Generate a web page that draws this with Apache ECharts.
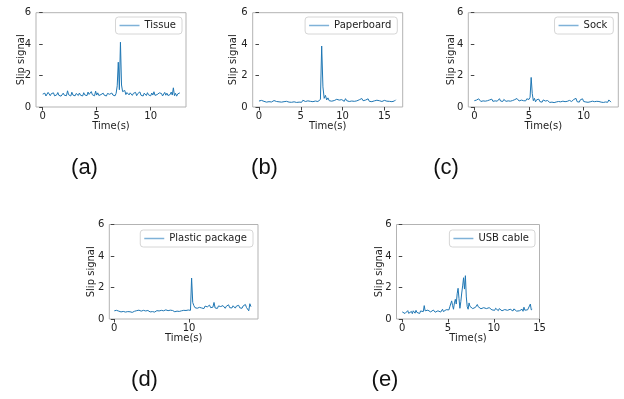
<!DOCTYPE html>
<html>
<head>
<meta charset="utf-8">
<script src="https://cdn.jsdelivr.net/npm/echarts@6/dist/echarts.min.js"></script>
<style>
  html, body { margin: 0; padding: 0; background: #fff; }
  #chart { width: 624px; height: 399px; }
</style>
</head>
<body>
<div id="chart"></div>
<script>
// sample spacing (s) for each recording
const dtTissue = 0.1;
const dtPaper = 0.15;
const dtSock = 0.1;
const dtPlastic = 0.15;
const dtUsb = 0.1;

// slip signal values
const tissue = [
  0.82,0.74,0.88,0.70,0.79,0.93,1.00,0.72,0.85,0.76,
  0.90,0.71,0.83,0.77,0.92,0.74,0.86,0.69,0.81,0.88,
  0.75,0.84,0.72,1.03,0.78,0.87,0.70,0.94,0.76,0.83,
  0.71,0.86,0.79,0.73,0.89,0.75,0.82,0.70,0.91,0.77,
  0.84,0.72,0.95,0.80,0.74,0.98,0.78,0.87,0.71,1.01,
  0.76,0.90,0.73,0.85,0.79,0.72,0.88,0.75,0.83,0.70,
  0.86,0.77,0.81,0.73,0.89,0.76,0.84,0.71,0.87,1.35,
  2.85,1.10,4.12,1.40,0.98,0.86,1.05,0.79,0.92,0.84,
  0.77,0.90,0.81,0.74,0.87,0.79,0.93,0.72,0.85,0.78,
  0.96,0.75,0.83,0.70,0.88,0.80,0.73,0.91,0.77,0.85,
  0.71,0.89,0.76,0.97,0.74,0.84,0.79,0.72,0.90,0.78,
  0.86,0.70,0.82,0.93,0.75,0.88,0.73,0.84,0.79,0.95,
  0.76,1.22,0.72,0.87,0.69,0.83,0.78,0.90
];
const paperboard = [
  0.38,0.30,0.42,0.33,0.36,0.45,0.31,0.39,0.34,0.44,
  0.32,0.37,0.41,0.30,0.35,0.43,0.33,0.38,0.31,0.40,
  0.34,0.29,0.36,0.42,0.31,0.35,0.30,0.38,0.33,0.36,
  0.29,0.34,0.31,0.37,0.30,0.43,0.33,0.35,0.30,0.39,
  0.32,0.36,0.29,0.34,0.31,0.38,0.30,0.35,0.33,0.48,
  3.88,1.28,0.55,0.74,0.45,0.58,0.40,0.52,0.37,0.46,
  0.41,0.35,0.49,0.38,0.44,0.34,0.47,0.39,0.36,0.53,
  0.40,0.45,0.35,0.42,0.38,0.50,0.36,0.43,0.39,0.34,
  0.46,0.37,0.54,0.40,0.35,0.44,0.38,0.52,0.36,0.41,
  0.34,0.45,0.39,0.36,0.43,0.33,0.40,0.48,0.35,0.38,
  0.42,0.33,0.37,0.45,0.36,0.40,0.34,0.43,0.38,0.46
];
const sock = [
  0.40,0.36,0.44,0.38,0.52,0.41,0.35,0.47,0.39,0.43,
  0.37,0.49,0.40,0.34,0.45,0.38,0.50,0.36,0.42,0.39,
  0.46,0.37,0.41,0.53,0.38,0.44,0.35,0.48,0.40,0.36,
  0.43,0.39,0.51,0.37,0.45,0.41,0.36,0.47,0.40,0.54,
  0.42,0.38,0.49,0.44,0.56,0.40,0.47,0.39,0.52,0.43,
  0.48,0.62,1.88,0.85,0.40,0.55,0.33,0.46,0.36,0.50,
  0.34,0.42,0.31,0.45,0.33,0.38,0.30,0.41,0.34,0.29,
  0.36,0.31,0.34,0.28,0.37,0.32,0.30,0.35,0.29,0.33,
  0.31,0.37,0.30,0.34,0.28,0.36,0.32,0.42,0.30,0.35,
  0.33,0.48,0.36,0.55,0.34,0.40,0.31,0.46,0.38,0.52,
  0.35,0.44,0.32,0.38,0.30,0.36,0.33,0.31,0.37,0.29,
  0.34,0.32,0.36,0.30,0.35,0.33,0.31,0.36,0.29,0.34,
  0.32,0.37,0.30,0.45,0.33,0.31
];
const plastic = [
  0.52,0.46,0.55,0.43,0.50,0.58,0.45,0.53,0.48,0.56,
  0.44,0.51,0.47,0.59,0.46,0.52,0.42,0.54,0.49,0.45,
  0.53,0.47,0.56,0.44,0.50,0.48,0.55,0.43,0.51,0.46,
  0.54,0.49,0.45,0.52,0.47,0.57,0.44,0.50,0.53,0.46,
  0.51,0.48,0.55,0.45,0.52,0.49,0.58,0.47,0.53,0.50,
  0.56,0.48,0.54,0.51,0.46,0.57,0.50,0.53,0.48,0.59,
  0.52,0.49,0.55,0.47,0.54,0.51,0.57,0.48,0.55,2.60,
  1.05,0.85,0.72,0.80,0.68,0.78,0.74,0.86,0.70,0.79,
  0.66,0.82,0.73,0.77,0.69,0.88,0.72,0.80,0.75,1.05,
  0.70,0.78,0.67,0.83,0.74,0.79,0.71,0.85,0.73,0.68,
  0.81,0.75,0.90,0.72,0.78,0.70,0.84,0.76,0.69,0.82,
  0.74,0.87,0.71,0.79,0.68,0.83,0.76,0.92,0.73,0.80,
  0.52,0.97,0.78
];
const usb = [
  0.45,0.38,0.50,0.35,0.47,0.41,0.53,0.36,0.44,0.39,
  0.48,0.34,0.52,0.40,0.37,0.55,0.42,0.38,0.46,0.35,
  0.51,0.43,0.58,0.47,0.85,0.52,0.62,0.44,0.56,0.48,
  0.60,0.45,0.53,0.41,0.57,0.49,0.43,0.55,0.40,0.52,
  0.46,0.58,0.44,0.50,0.62,0.47,0.55,0.43,0.59,0.52,
  0.65,0.58,0.78,0.70,1.15,0.85,0.62,1.02,1.25,0.95,
  1.60,1.95,1.30,0.68,1.10,1.65,2.10,2.62,1.90,2.75,
  1.40,0.78,0.62,1.02,0.80,0.70,0.76,0.66,0.72,0.68,
  0.74,0.82,0.92,0.78,0.70,0.80,0.65,0.75,0.68,0.72,
  0.63,0.70,0.66,0.78,0.60,0.72,0.64,0.69,0.58,0.67,
  0.62,0.55,0.68,0.58,0.64,0.53,0.66,0.57,0.61,0.52,
  0.63,0.56,0.60,0.50,0.65,0.55,0.58,0.52,0.62,0.54,
  0.57,0.51,0.64,0.53,0.59,0.50,0.61,0.55,0.52,0.58,
  0.54,0.62,0.49,0.75,0.56,0.60,0.51,0.58,0.53,0.63,
  0.95,0.58,0.62
];

// tick labels
const yTicks = [0, 2, 4, 6];
const xTicksA = [0, 5, 10];
const xTicksB = [0, 5, 10, 15];
const xTicksC = [0, 5, 10];
const xTicksD = [0, 10];
const xTicksE = [0, 5, 10, 15];

const names = ['Tissue', 'Paperboard', 'Sock', 'Plastic package', 'USB cable'];
const captions = ['(a)', '(b)', '(c)', '(d)', '(e)'];

const panels = [
  {vals: tissue, dt: dtTissue, ticks: xTicksA, grid: [36, 12.7, 150, 94.3], x: [-0.62, 13.27], yGap: 10, legend: [442, 17], cap: [84.5, 168]},
  {vals: paperboard, dt: dtPaper, ticks: xTicksB, grid: [252.7, 12.7, 150, 94.3], x: [-0.75, 17.19], yGap: 14.5, legend: [226.7, 17], cap: [264.5, 168]},
  {vals: sock, dt: dtSock, ticks: xTicksC, grid: [468.3, 12.7, 150, 94.3], x: [-0.55, 13.17], yGap: 11.6, legend: [10.7, 17], cap: [446, 168]},
  {vals: plastic, dt: dtPlastic, ticks: xTicksD, grid: [109.3, 224.5, 148.7, 94.5], x: [-0.67, 19.24], yGap: 12.5, legend: [371, 230], cap: [144.5, 380]},
  {vals: usb, dt: dtUsb, ticks: xTicksE, grid: [396.5, 224.5, 143, 94.5], x: [-0.63, 15], yGap: 11.7, legend: [89, 230], cap: [385, 380]}
];

const FONT = 'DejaVu Sans';
const LINE = '#1f77b4';

function toPairs(vals, dt) {
  return vals.map((v, i) => [Math.round(i * dt * 100) / 100, v]);
}

const chart = echarts.init(document.getElementById('chart'));

const option = {
  animation: false,
  backgroundColor: '#fff',
  grid: panels.map(p => ({
    left: p.grid[0], top: p.grid[1], width: p.grid[2], height: p.grid[3],
    show: true, borderColor: '#b3b3b3', borderWidth: 1, backgroundColor: 'transparent'
  })),
  xAxis: panels.map((p, i) => ({
    type: 'value',
    gridIndex: i,
    min: p.x[0],
    max: p.x[1],
    name: 'Time(s)',
    nameLocation: 'middle',
    nameGap: 14,
    nameMoveOverlap: false,
    nameTextStyle: {fontFamily: FONT, fontSize: 10, color: '#222'},
    axisLine: {show: false},
    axisTick: {show: true, length: 3.5, customValues: p.ticks, lineStyle: {color: '#444', width: 1}},
    axisLabel: {fontFamily: FONT, fontSize: 10, color: '#222', margin: 4, customValues: p.ticks},
    splitLine: {show: false}
  })),
  yAxis: panels.map((p, i) => ({
    type: 'value',
    gridIndex: i,
    min: 0,
    max: 6,
    interval: 2,
    name: 'Slip signal',
    nameLocation: 'middle',
    nameRotate: 90,
    nameGap: p.yGap,
    nameMoveOverlap: false,
    nameTextStyle: {fontFamily: FONT, fontSize: 10, color: '#222'},
    axisLine: {show: false},
    axisTick: {show: true, length: 3.5, customValues: yTicks, lineStyle: {color: '#444', width: 1}},
    axisLabel: {fontFamily: FONT, fontSize: 10, color: '#222', margin: 5, customValues: yTicks},
    splitLine: {show: false}
  })),
  legend: panels.map((p, i) => ({
    data: [names[i]],
    right: p.legend[0],
    top: p.legend[1],
    orient: 'horizontal',
    icon: 'rect',
    padding: [3, 6, 3, 4],
    itemWidth: 20,
    itemHeight: 1.5,
    itemStyle: {color: '#7fb2d8', borderWidth: 0},
    borderColor: '#d6d6d6',
    borderWidth: 1,
    borderRadius: 3,
    backgroundColor: 'rgba(255,255,255,0.8)',
    textStyle: {fontFamily: FONT, fontSize: 10, color: '#222', lineHeight: 11},
    selectedMode: false
  })),
  series: panels.map((p, i) => ({
    name: names[i],
    type: 'line',
    xAxisIndex: i,
    yAxisIndex: i,
    data: toPairs(p.vals, p.dt),
    symbol: 'none',
    lineStyle: {color: LINE, width: 1},
    itemStyle: {color: LINE},
    silent: true
  })),
  graphic: panels.map((p, i) => ({
    type: 'text',
    x: p.cap[0],
    y: p.cap[1],
    style: {
      text: captions[i],
      fontFamily: 'Liberation Sans',
      fontSize: 22,
      fill: '#111',
      align: 'center',
      verticalAlign: 'middle'
    }
  }))
};

chart.setOption(option);
</script>
</body>
</html>
